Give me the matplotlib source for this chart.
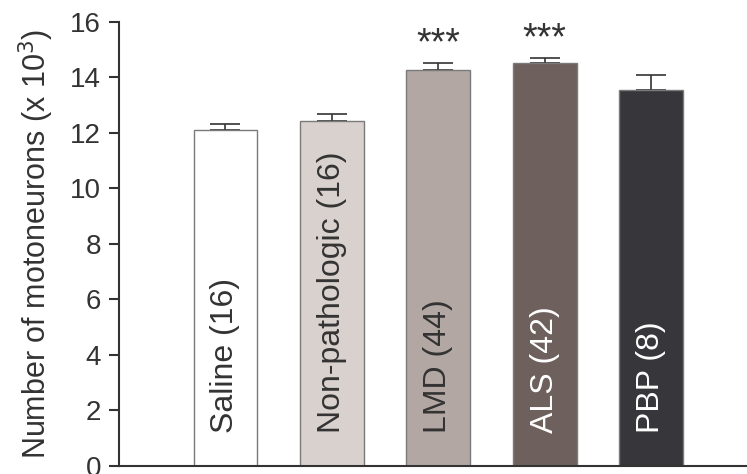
import matplotlib.pyplot as plt
import numpy as np

plt.rcParams["font.family"] = ["Liberation Sans", "DejaVu Sans"]

groups = ["Saline (16)", "Non-pathologic (16)", "LMD (44)", "ALS (42)", "PBP (8)"]
means = [12.10, 12.43, 14.26, 14.51, 13.55]
sem = [0.21, 0.25, 0.27, 0.20, 0.55]
stars = ["", "", "***", "***", ""]
colors = ["#ffffff", "#d9d1ce", "#b2a7a2", "#6e615d", "#37363a"]
label_colors = ["#333333", "#333333", "#333333", "#ffffff", "#ffffff"]

ink = "#333333"

fig = plt.figure(figsize=(7.47, 4.74), dpi=100)
ax = fig.add_axes([0.1593, 0.0169, 0.8407, 0.9367])

x = np.arange(len(groups))
ax.bar(x, means, 0.6, color=colors, edgecolor="#7a7a7a", linewidth=1.0, zorder=2)
ax.errorbar(x, means, yerr=[np.zeros(len(sem)), sem], fmt="none", ecolor=ink,
            elinewidth=1.2, capsize=10.5, capthick=1.2, zorder=1)

# group names written vertically inside each bar
for xi, name, tc in zip(x, groups, label_colors):
    ax.text(xi, 1.2, name, rotation=90, ha="center", va="bottom",
            fontsize=23, color=tc, zorder=3)

# significance marks just above the error bars
for xi, m, s, st in zip(x, means, sem, stars):
    if st:
        ax.text(xi, m + s + 0.3, st, ha="center", va="baseline", fontsize=27,
                color=ink)

ax.set_xlim(-1.0, 4.9)
ax.set_ylim(0, 16)
ax.set_yticks(np.arange(0, 17, 2))
ax.set_xticks([])
ax.set_ylabel("Number of motoneurons (x 10$^3$)", fontsize=22, color=ink)
ax.yaxis.set_label_coords(-0.100, 0.5)
ax.tick_params(axis="y", direction="out", length=7, width=1.5, colors=ink,
               labelsize=20, pad=6)

for side in ["top", "right"]:
    ax.spines[side].set_visible(False)
for side in ["left", "bottom"]:
    ax.spines[side].set_linewidth(1.5)
    ax.spines[side].set_color(ink)

fig.savefig("out.png", dpi=100)
